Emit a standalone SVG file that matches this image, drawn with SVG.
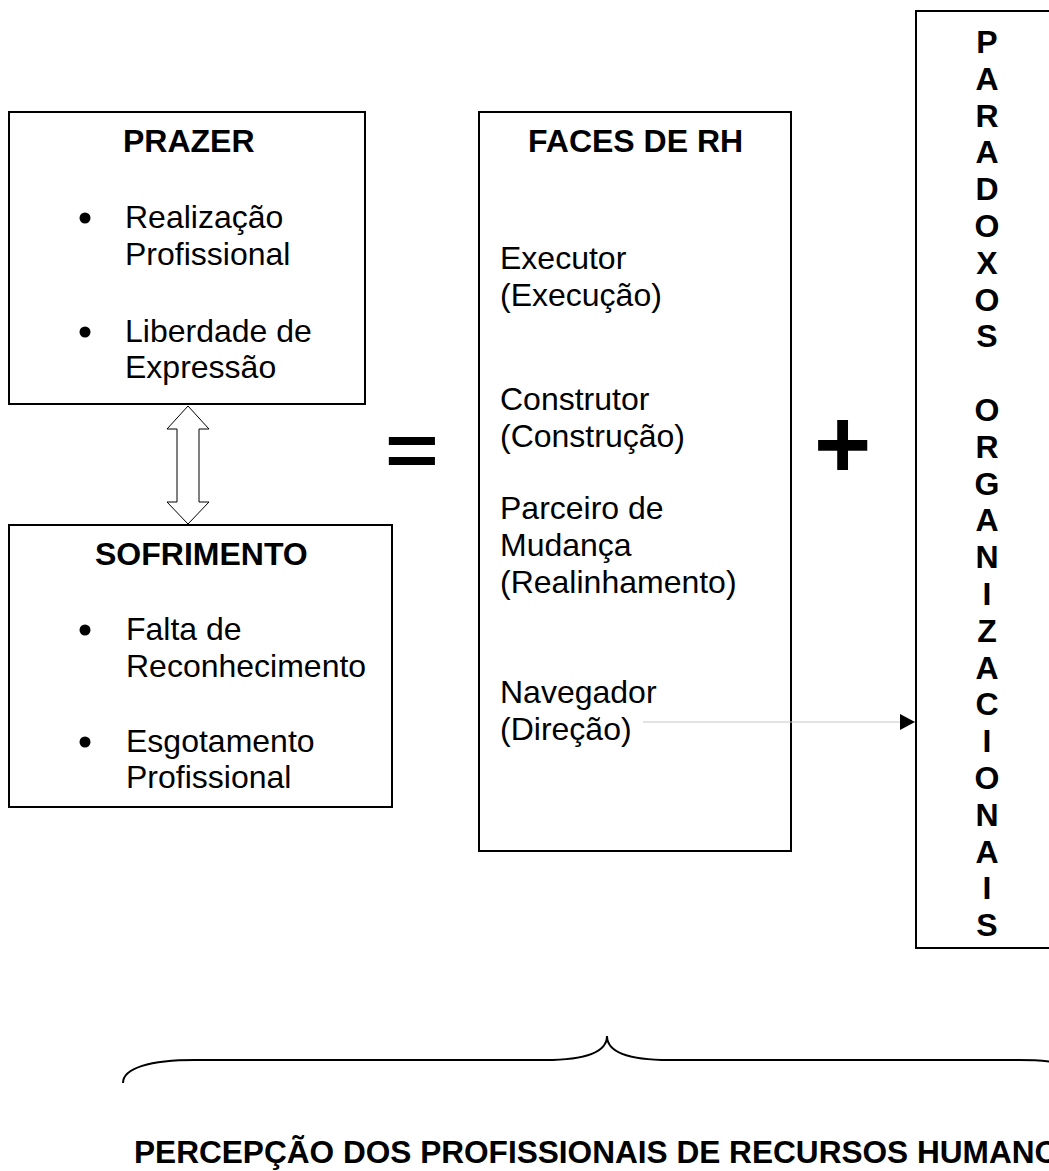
<svg xmlns="http://www.w3.org/2000/svg" width="1049" height="1171" viewBox="0 0 1049 1171">
<style>
.box{fill:#fff;stroke:#000;stroke-width:2}
.t{font-family:"Liberation Sans",Arial,sans-serif;font-size:32px;fill:#000}
.b{font-weight:bold}
.v{font-family:"Liberation Sans",Arial,sans-serif;font-size:32px;font-weight:bold;text-anchor:middle;fill:#000}
</style>
<defs>
<marker id="ah" markerWidth="16" markerHeight="16" refX="15" refY="8" orient="auto" markerUnits="userSpaceOnUse">
<path d="M0,0 L15,8 L0,16 Z" fill="#000"/>
</marker>
</defs>
<rect width="1049" height="1171" fill="#fff"/>

<g id="prazer">
<rect class="box" x="9" y="112" width="356" height="292"/>
<text class="t b" x="123" y="152">PRAZER</text>
<circle cx="85" cy="218" r="5.5"/>
<text class="t" x="125" y="228">Realização</text>
<text class="t" x="125" y="265">Profissional</text>
<circle cx="85" cy="332" r="5.5"/>
<text class="t" x="125" y="342">Liberdade de</text>
<text class="t" x="125" y="378">Expressão</text>
</g>

<g id="sofrimento">
<rect class="box" x="9" y="525" width="383" height="282"/>
<text class="t b" x="95" y="565">SOFRIMENTO</text>
<circle cx="85" cy="630" r="5.5"/>
<text class="t" x="126" y="640">Falta de</text>
<text class="t" x="126" y="677">Reconhecimento</text>
<circle cx="85" cy="742" r="5.5"/>
<text class="t" x="126" y="752">Esgotamento</text>
<text class="t" x="126" y="788">Profissional</text>
</g>

<g id="faces">
<rect class="box" x="479" y="112" width="312" height="739"/>
<text class="t b" x="528" y="152">FACES DE RH</text>
<text class="t" x="500" y="269">Executor</text>
<text class="t" x="500" y="306">(Execução)</text>
<text class="t" x="500" y="410">Construtor</text>
<text class="t" x="500" y="447">(Construção)</text>
<text class="t" x="500" y="519">Parceiro de</text>
<text class="t" x="500" y="556">Mudança</text>
<text class="t" x="500" y="593">(Realinhamento)</text>
<text class="t" x="500" y="703">Navegador</text>
<text class="t" x="500" y="740">(Direção)</text>
</g>

<g id="paradoxos">
<rect class="box" x="916" y="11" width="150" height="937"/>
<text class="v" x="987" y="53">P</text>
<text class="v" x="987" y="89.8">A</text>
<text class="v" x="987" y="126.6">R</text>
<text class="v" x="987" y="163.4">A</text>
<text class="v" x="987" y="200.2">D</text>
<text class="v" x="987" y="237">O</text>
<text class="v" x="987" y="273.8">X</text>
<text class="v" x="987" y="310.6">O</text>
<text class="v" x="987" y="347.4">S</text>
<text class="v" x="987" y="421">O</text>
<text class="v" x="987" y="457.8">R</text>
<text class="v" x="987" y="494.6">G</text>
<text class="v" x="987" y="531.4">A</text>
<text class="v" x="987" y="568.2">N</text>
<text class="v" x="987" y="605">I</text>
<text class="v" x="987" y="641.8">Z</text>
<text class="v" x="987" y="678.6">A</text>
<text class="v" x="987" y="715.4">C</text>
<text class="v" x="987" y="752.2">I</text>
<text class="v" x="987" y="789">O</text>
<text class="v" x="987" y="825.8">N</text>
<text class="v" x="987" y="862.6">A</text>
<text class="v" x="987" y="899.4">I</text>
<text class="v" x="987" y="936">S</text>
</g>

<g id="operators">
<text x="385" y="482" font-family="Liberation Sans, Arial, sans-serif" font-size="92" font-weight="bold" transform="translate(0,450) scale(1,0.8) translate(0,-450)">=</text>
<text x="814" y="478" font-family="Liberation Sans, Arial, sans-serif" font-size="98" font-weight="bold">+</text>
</g>

<g id="connectors">
<polygon points="188,406 209,429 199,429 199,502 209,502 188,524 167,502 177,502 177,429 167,429" fill="#fff" stroke="#000" stroke-width="1"/>
<line x1="643" y1="722" x2="915" y2="722" stroke="#c8c8c8" stroke-width="1" marker-end="url(#ah)"/>
</g>

<g id="brace">
<path d="M123,1083 C123,1068 150,1060 195,1060 L545,1060 C585,1060 607,1052 607,1036 C607,1052 629,1060 669,1060 L1019,1060 C1064,1060 1091,1068 1091,1083" fill="none" stroke="#000" stroke-width="2"/>
</g>

<g id="caption">
<text class="b" x="134" y="1163" font-family="Liberation Sans, Arial, sans-serif" font-size="31.6">PERCEPÇÃO DOS PROFISSIONAIS DE RECURSOS HUMANOS</text>
</g>
</svg>
